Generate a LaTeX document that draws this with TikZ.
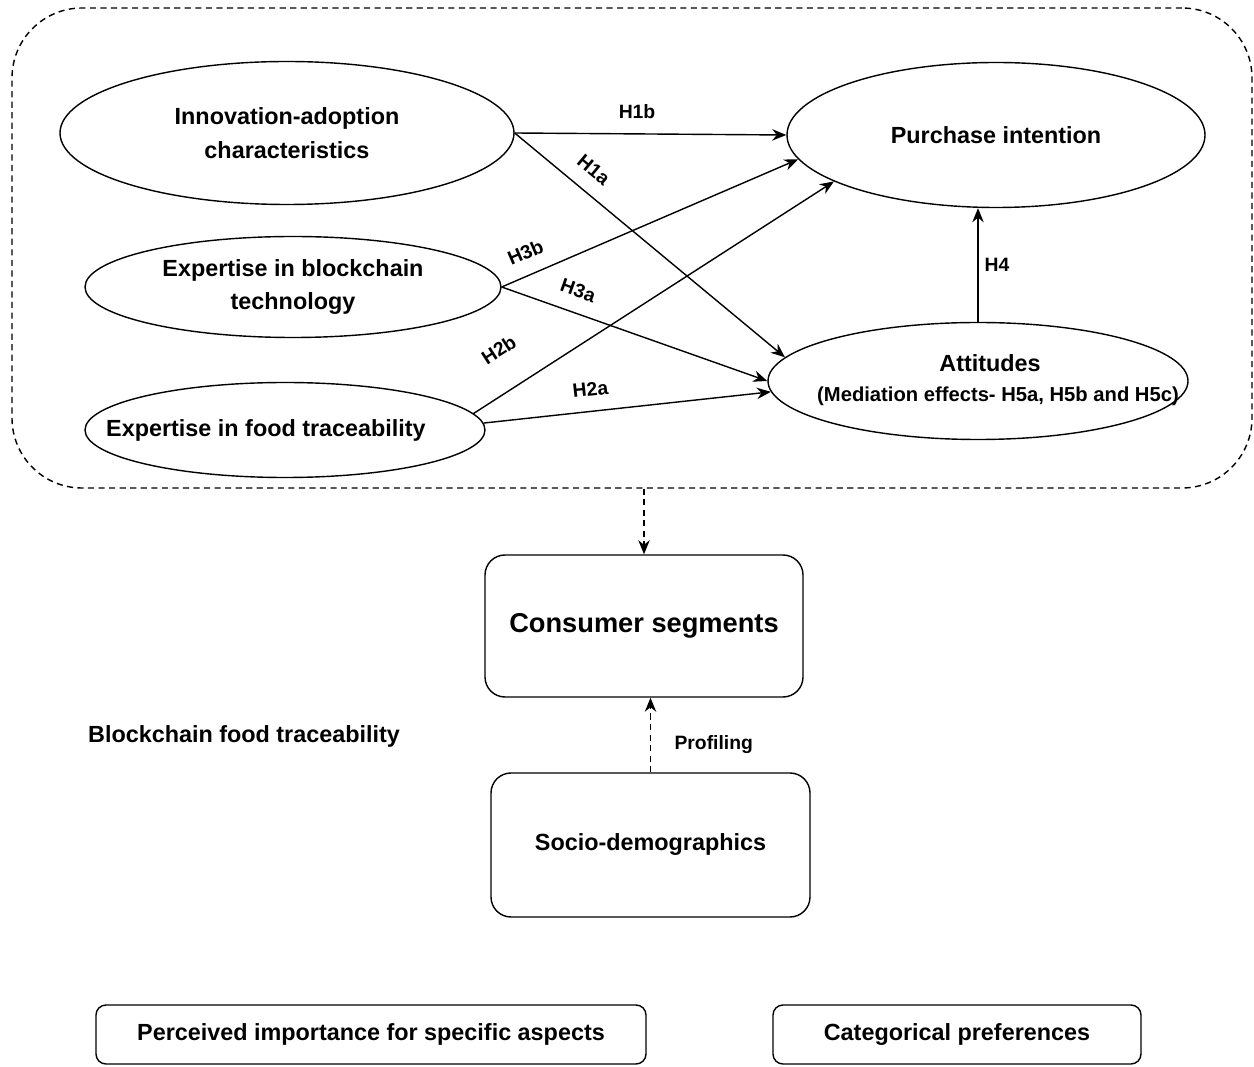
\documentclass[tikz,border=0pt]{standalone}
\usepackage{fontspec}
\setmainfont{Liberation Sans}
\usepackage{tikz}
\usetikzlibrary{shapes.geometric,arrows.meta}

\begin{document}
\begin{tikzpicture}[ovalnode/.style={ellipse, draw=black, line width=0.8pt, inner sep=0pt, align=center, font=\fontsize{13.3}{19.3}\selectfont\bfseries},
                    boxnode/.style={rectangle, draw=black, line width=0.8pt, rounded corners=0.4cm, align=center, font=\fontsize{13.3}{19.3}\selectfont\bfseries}]
            \useasboundingbox (0,0) rectangle (25.08,21.32);

            \tikzset{hyparrow/.style={-{Stealth[length=8pt,width=6.5pt]}, line width=0.8pt}}
            \tikzset{dashline/.style={dash pattern=on 3.5pt off 2.5pt, line width=0.8pt}}
            \tikzset{hlabel/.style={font=\fontsize{11}{13}\selectfont\bfseries, sloped, above=5pt}}

            % model frame
            \node[draw=black, dashline, rounded corners=1.4cm, minimum width=24.8cm, minimum height=9.6cm] (model) at (12.64,16.36) {};

            \node[ovalnode, minimum width=9.08cm, minimum height=2.86cm] (inno) at (5.74,18.66) {Innovation-adoption\\characteristics};
            \node[ovalnode, minimum width=8.32cm, minimum height=2.02cm] (exb) at (5.86,15.58) {Expertise in blockchain\\technology};
            \node[ovalnode, minimum width=8.0cm, minimum height=1.9cm] (exf) at (5.70,12.72) {};
            \node[font=\fontsize{13.3}{19.3}\selectfont\bfseries] (exftext) at (5.32,12.72) {Expertise in food traceability};
            \node[ovalnode, minimum width=8.36cm, minimum height=2.9cm] (purch) at (19.92,18.62) {Purchase intention};
            \node[ovalnode, minimum width=8.4cm, minimum height=2.34cm] (att) at (19.56,13.70) {};
            \node[font=\fontsize{13.3}{19.3}\selectfont\bfseries] (atttext) at (19.80,14.06) {Attitudes};
            \node[font=\fontsize{11.5}{14}\selectfont\bfseries] (medtext) at (19.96,13.40) {(Mediation effects- H5a, H5b and H5c)};

            \node[boxnode, font=\fontsize{15.5}{19}\selectfont\bfseries, minimum width=6.36cm, minimum height=2.84cm] (cons) at (12.88,8.80) {Consumer segments};
            \node[boxnode, minimum width=6.38cm, minimum height=2.88cm] (socio) at (13.01,4.42) {Socio-demographics};
            \node[font=\fontsize{13.3}{19.3}\selectfont\bfseries] (bft) at (4.88,6.60) {Blockchain food traceability};
            \node[boxnode, rounded corners=0.2cm, minimum width=11.0cm, minimum height=1.18cm] (perc) at (7.42,0.63) {Perceived importance for specific aspects};
            \node[boxnode, rounded corners=0.2cm, minimum width=7.36cm, minimum height=1.18cm] (cat) at (19.14,0.63) {Categorical preferences};

            % hypotheses
            \draw[hyparrow] (inno.east) -- node[hlabel, pos=0.45] {H1b} (purch.west);
            \draw[hyparrow] (inno.east) -- node[hlabel, pos=0.24] {H1a} (att.173);
            \draw[hyparrow] (exb.east) -- node[hlabel, pos=0.11] {H3b} (purch.187);
            \draw[hyparrow] (exb.east) -- node[hlabel, pos=0.26] {H3a} (att.west);
            \draw[hyparrow] (exf.5) -- node[hlabel, pos=0.13, above=10pt] {H2b} (purch.196);
            \draw[hyparrow] (exf.2) -- node[hlabel, pos=0.38] {H2a} (att.183);
            \draw[hyparrow] (att.north) -- node[right, font=\fontsize{11}{13}\selectfont\bfseries] {H4} (att.north |- purch.south);

            % segmentation
            \draw[hyparrow, dashline] (model.south -| cons.north) -- (cons.north);
            \draw[hyparrow, dashline] (socio.north) -- node[right=0.35cm, pos=0.37, font=\fontsize{11}{13}\selectfont\bfseries] {Profiling} (socio.north |- cons.south);

        \end{tikzpicture}
\end{document}
